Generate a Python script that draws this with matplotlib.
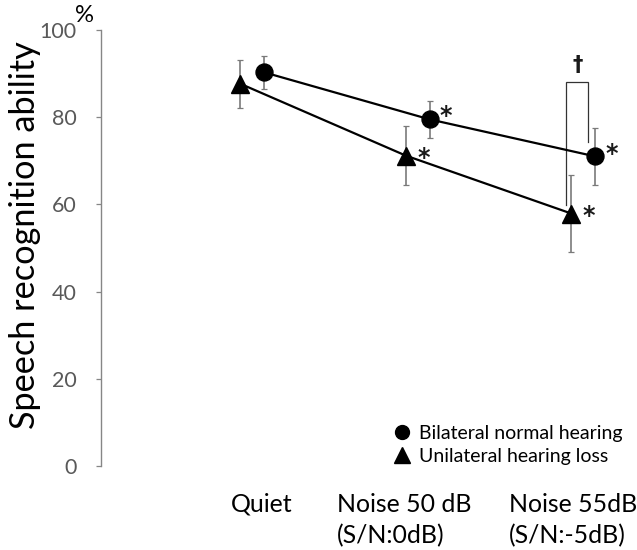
import matplotlib
matplotlib.use("Agg")
import matplotlib.pyplot as plt
import matplotlib.transforms as mtransforms
from matplotlib.textpath import TextPath
from matplotlib.font_manager import FontProperties
from matplotlib.lines import Line2D

# ---------------- data ----------------
categories = ["Quiet", "Noise 50 dB\n(S/N:0dB)", "Noise 55dB\n(S/N:-5dB)"]
bilateral = [90.3, 79.5, 71.0]
bilateral_err = [3.8, 4.3, 6.5]
unilateral = [87.7, 71.2, 57.9]
unilateral_err = [5.5, 6.8, 8.9]
bilateral_sig = ["", "*", "*"]
unilateral_sig = ["", "*", "*"]
yticks = [0, 20, 40, 60, 80, 100]
series_labels = ["Bilateral normal hearing", "Unilateral hearing loss"]
ylabel = "Speech recognition ability"
unit_label = "%"
dagger_label = "\u2020"
bracket_levels = [59.9, 88.1, 74.4]   # left foot, top, right foot (data units)

# ---------------- layout / style ----------------
W, H, DPI = 637, 550, 100
FONT = "Lato"
SYM_FONT = "DejaVu Sans"
fig = plt.figure(figsize=(W / DPI, H / DPI), dpi=DPI)
px = mtransforms.Affine2D().scale(1.0 / W, -1.0 / H).translate(0, 1) + fig.transFigure


def _ext(s, size, family, weight="normal"):
    return TextPath((0, 0), s, size=size,
                    prop=FontProperties(family=family, weight=weight)).get_extents()


def pt_for_ink_width(s, target_px, family=FONT, weight="normal"):
    w100 = _ext(s, 100, family, weight).width
    return target_px * 100.0 / w100 * 72.0 / DPI


def pt_for_ink_height(s, target_px, family=FONT, weight="normal"):
    h100 = _ext(s, 100, family, weight).height
    return target_px * 100.0 / h100 * 72.0 / DPI


def ink_center(s, size_pt, family=FONT, weight="normal"):
    e = _ext(s, size_pt * DPI / 72.0, family, weight)
    return (e.x0 + e.x1) / 2.0, (e.y0 + e.y1) / 2.0


ax_left_px, ax_top_px, ax_bot_px = 101, 30, 466
ax = fig.add_axes([ax_left_px / W, 1 - ax_bot_px / H, 1 - ax_left_px / W,
                   (ax_bot_px - ax_top_px) / H])

cat_px0, cat_step = 252.0, 165.7
ax.set_xlim((ax_left_px - cat_px0) / cat_step, (W - cat_px0) / cat_step)
ax.set_ylim(0, 100)

xs = list(range(len(categories)))
off = 12.0 / cat_step
xb = [x + off for x in xs]
xu = [x - off for x in xs]

err_kw = dict(fmt="none", ecolor="#7a7a7a", elinewidth=1.2, capsize=2.3, capthick=0.9, zorder=2)
ax.errorbar(xb, bilateral, yerr=bilateral_err, **err_kw)
ax.errorbar(xu, unilateral, yerr=unilateral_err, **err_kw)
ax.plot(xb, bilateral, color="black", lw=1.6, marker="o", ms=12.2, zorder=3)
ax.plot(xu, unilateral, color="black", lw=1.6, marker="^", ms=12.8, zorder=3)

# significance asterisks
ast_w = "bold"
ast_size = pt_for_ink_height("*", 11.0, SYM_FONT, ast_w)
acx, acy = ink_center("*", ast_size, SYM_FONT, ast_w)
for xv, yv, s in zip(xb, bilateral, bilateral_sig):
    if s:
        ax.annotate(s, (xv, yv), xytext=(16 - acx, 8 - acy), textcoords="offset pixels",
                    ha="left", va="baseline", fontsize=ast_size, family=SYM_FONT,
                    weight=ast_w, color="#1a1a1a")
for xv, yv, s in zip(xu, unilateral, unilateral_sig):
    if s:
        ax.annotate(s, (xv, yv), xytext=(17.5 - acx, 2.8 - acy), textcoords="offset pixels",
                    ha="left", va="baseline", fontsize=ast_size, family=SYM_FONT,
                    weight=ast_w, color="#1a1a1a")

# bracket with dagger
bl = 2 - 17.5 / cat_step
br = 2 + 5.0 / cat_step
ax.plot([bl, bl, br, br], [bracket_levels[0], bracket_levels[1], bracket_levels[1], bracket_levels[2]],
        color="#333333", lw=0.9, zorder=2, solid_joinstyle="miter")
ax.annotate(dagger_label, ((bl + br) / 2, bracket_levels[1]), xytext=(0.6, 10.5),
            textcoords="offset pixels", ha="center", va="baseline", fontsize=15,
            family=SYM_FONT, weight="bold", color="#1a1a1a")

# axes styling
for sp in ("top", "right", "bottom"):
    ax.spines[sp].set_visible(False)
ax.spines["left"].set_color("#868686")
ax.spines["left"].set_linewidth(1.0)
tick_size = pt_for_ink_width("100", 35)
ax.set_yticks(yticks)
ax.set_yticklabels([str(t) for t in yticks], family=FONT, fontsize=tick_size, color="#595959")
ax.tick_params(axis="y", direction="out", length=3.6, width=0.9, color="#868686", pad=14)
ax.set_xticks([])

# y label and unit
yl_size = pt_for_ink_width(ylabel, 387)
fig.text(24.6, 235.5, ylabel, transform=px, rotation=90, ha="center", va="center",
         fontsize=yl_size, family=FONT, color="black")
pct_size = pt_for_ink_width(unit_label, 17)
fig.text(84, 16, unit_label, transform=px, ha="center", va="center",
         fontsize=pct_size, family=FONT, color="black")

# category labels (two lines, left aligned)
xl_size = pt_for_ink_width("Noise 55dB", 125)
label_left_px = [231, 337, 509]
baselines_px = [511.7, 543.5]
for lx, lab in zip(label_left_px, categories):
    for line, by in zip(lab.split("\n"), baselines_px):
        fig.text(lx, by, line, transform=px, ha="left", va="baseline",
                 fontsize=xl_size, family=FONT, color="black")

# legend
leg_size = pt_for_ink_width(series_labels[0], 201)
handles = [Line2D([], [], ls="none", marker="o", color="black", ms=10),
           Line2D([], [], ls="none", marker="^", color="black", ms=11)]
leg_em = leg_size * DPI / 72.0
ax.legend(handles, series_labels, loc="upper left",
          bbox_to_anchor=((401.5 - 0.5 * leg_em) / W, 1 - 425.0 / H),
          bbox_transform=fig.transFigure, frameon=False, borderpad=0, borderaxespad=0,
          handlelength=1.0, handletextpad=0.4, labelspacing=0.3,
          prop=FontProperties(family=FONT, size=leg_size))

fig.savefig("out.png", dpi=DPI)
